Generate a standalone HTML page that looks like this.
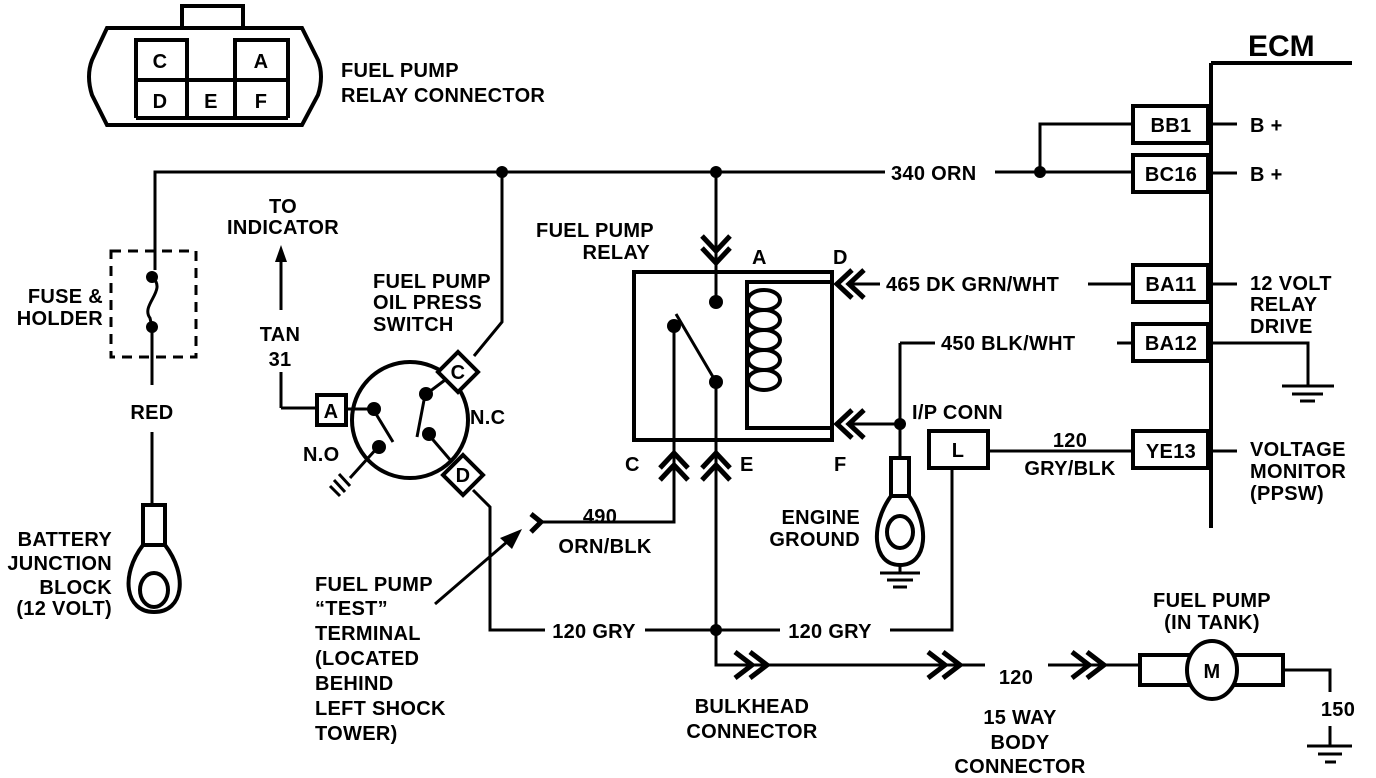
<!DOCTYPE html>
<html><head><meta charset="utf-8"><style>
html,body{margin:0;padding:0;background:#fff}
svg{display:block}
text{font-family:"Liberation Sans",sans-serif;font-weight:bold;font-size:20px;letter-spacing:0.3px;fill:#000}
</style></head><body>
<svg width="1376" height="778" viewBox="0 0 1376 778" xmlns="http://www.w3.org/2000/svg">
<g fill="none" stroke="#000" stroke-width="3">
<path d="M107,28 L302,28 L318,60 Q324,76 318,95 L302,125 L107,125 L92,95 Q86,76 92,60 Z" stroke-width="4"/>
<rect x="182" y="6" width="61" height="22" stroke-width="4"/>
<path d="M136,118 V40 H187 V118 M235,118 V40 H288 V118 M136,80 H288 M136,118 H288 M187,80 V118 M235,80 V118" stroke-width="4"/>
<path d="M155,270 V172 H885 M995,172 H1133"/>
<path d="M1040,172 V124 H1133"/>
<rect x="111" y="251" width="85" height="106" stroke-dasharray="10,7"/>
<path d="M152,277 C168,290 140,305 150,318 L152,327 V385"/>
<path d="M152,432 V505"/>
<rect x="143" y="505" width="22" height="40" stroke-width="4"/>
<path d="M143,545 C120,575 125,612 154,612 C184,612 188,575 165,545" stroke-width="4"/>
<ellipse cx="154" cy="590" rx="14" ry="17" stroke-width="4"/>
<path d="M1211,63 V528 M1211,63 H1352" stroke-width="4"/>
<rect x="1133" y="106" width="75" height="37" stroke-width="4"/>
<rect x="1133" y="155" width="75" height="37" stroke-width="4"/>
<rect x="1133" y="265" width="75" height="37" stroke-width="4"/>
<rect x="1133" y="324" width="75" height="37" stroke-width="4"/>
<rect x="1133" y="431" width="75" height="37" stroke-width="4"/>
<path d="M1212,124 H1237 M1212,173 H1237 M1212,284 H1237 M1212,451 H1237"/>
<path d="M1212,343 H1308 V385 M1282,386 H1334 M1292,394 H1323 M1300,401 H1315"/>
<rect x="634" y="272" width="198" height="168" stroke-width="4"/>
<path d="M832,282 H747 V428 H832" stroke-width="4"/>
<g stroke-width="4">
<ellipse cx="764" cy="300" rx="16" ry="10"/><ellipse cx="764" cy="320" rx="16" ry="10"/><ellipse cx="764" cy="340" rx="16" ry="10"/><ellipse cx="764" cy="360" rx="16" ry="10"/><ellipse cx="764" cy="380" rx="16" ry="10"/>
</g>
<path d="M716,172 V302 M674,326 V522 H540 M716,382 V665 H985 M1048,665 H1140 M676,314 L716,382"/>
<path d="M702,236 L716,251 L730,236 M702,248 L716,263 L730,248" stroke-width="5"/>
<path d="M660,468 L674,453 L688,468 M660,480 L674,465 L688,480" stroke-width="5"/>
<path d="M702,468 L716,453 L730,468 M702,480 L716,465 L730,480" stroke-width="5"/>
<path d="M852,270 L837,284 L852,298 M864,270 L849,284 L864,298" stroke-width="5"/>
<path d="M852,410 L837,424 L852,438 M864,410 L849,424 L864,438" stroke-width="5"/>
<path d="M848,284 H880 M852,424 H900"/>
<path d="M900,343 H935 M1117,343 H1133 M1088,284 H1133"/>
<path d="M900,343 V458"/>
<rect x="891" y="458" width="18" height="38" stroke-width="4"/>
<path d="M891,496 C870,525 872,565 900,565 C928,565 930,525 909,496" stroke-width="4"/>
<ellipse cx="900" cy="532" rx="13" ry="16" stroke-width="4"/>
<path d="M900,565 V572 M880,573 H920 M887,580 H913 M893,587 H907"/>
<rect x="929" y="431" width="59" height="37" stroke-width="4"/>
<path d="M988,451 H1133 M952,468 V630 H890 M780,630 H645 M545,630 H490 V507 L473,490"/>
<path d="M735,652 L752,665 L735,678 M750,652 L767,665 L750,678" stroke-width="5"/>
<path d="M928,652 L945,665 L928,678 M943,652 L960,665 L943,678" stroke-width="5"/>
<path d="M1072,652 L1089,665 L1072,678 M1087,652 L1104,665 L1087,678" stroke-width="5"/>
<rect x="1140" y="655" width="143" height="30" stroke-width="4" fill="#fff"/>
<ellipse cx="1212" cy="670" rx="25" ry="29" stroke-width="4" fill="#fff"/>
<path d="M1283,670 H1330 V692 M1330,726 V745 M1307,746 H1352 M1318,754 H1342 M1325,762 H1336"/>
<path d="M531,514 L541,522 L531,532" stroke-width="5"/>
<path d="M435,604 L515,535"/>
<circle cx="410" cy="420" r="58" stroke-width="4"/>
<rect x="317" y="395" width="29" height="30" stroke-width="4" fill="#fff"/>
<path d="M281,408 H317 M281,408 V372 M281,310 V255"/>
<path d="M458,352 L478,372 L458,392 L438,372 Z" stroke-width="4" fill="#fff"/>
<path d="M463,455 L483,475 L463,495 L443,475 Z" stroke-width="4" fill="#fff"/>
<path d="M474,356 L502,322 V172"/>
<path d="M346,409 H373 L393,442 M445,380 L425,395 L417,437 M428,434 L452,462 M378,447 L350,478 M339,474 L350,486 M334,480 L345,492 M330,486 L340,496"/>
</g>
<path d="M281,245 L275,262 L287,262 Z" fill="#000"/>
<path d="M522,529 L500,538 L512,549 Z" fill="#000"/>
<g fill="#000">
<circle cx="502" cy="172" r="6"/><circle cx="716" cy="172" r="6"/><circle cx="1040" cy="172" r="6"/>
<circle cx="152" cy="277" r="6"/><circle cx="152" cy="327" r="6"/>
<circle cx="716" cy="302" r="7"/><circle cx="674" cy="326" r="7"/><circle cx="716" cy="382" r="7"/>
<circle cx="900" cy="424" r="6"/><circle cx="716" cy="630" r="6"/>
<circle cx="374" cy="409" r="7"/><circle cx="426" cy="394" r="7"/><circle cx="429" cy="434" r="7"/><circle cx="379" cy="447" r="7"/>
</g>
<text x="1248" y="56" style="font-size:30px;letter-spacing:0">ECM</text>
<text x="160" y="68" text-anchor="middle">C</text><text x="261" y="68" text-anchor="middle">A</text>
<text x="160" y="108" text-anchor="middle">D</text><text x="211" y="108" text-anchor="middle">E</text><text x="261" y="108" text-anchor="middle">F</text>
<text x="341" y="77">FUEL PUMP</text><text x="341" y="102">RELAY CONNECTOR</text>
<text x="891" y="180">340  ORN</text>
<text x="1171" y="132" text-anchor="middle">BB1</text><text x="1171" y="181" text-anchor="middle">BC16</text>
<text x="1171" y="291" text-anchor="middle">BA11</text><text x="1171" y="350" text-anchor="middle">BA12</text>
<text x="1171" y="458" text-anchor="middle">YE13</text>
<text x="1250" y="132">B +</text><text x="1250" y="181">B +</text>
<text x="1250" y="290">12 VOLT</text><text x="1250" y="311">RELAY</text><text x="1250" y="333">DRIVE</text>
<text x="1250" y="456">VOLTAGE</text><text x="1250" y="478">MONITOR</text><text x="1250" y="500">(PPSW)</text>
<text x="886" y="291">465  DK GRN/WHT</text>
<text x="941" y="350">450  BLK/WHT</text>
<text x="958" y="457" text-anchor="middle">L</text>
<text x="912" y="419">I/P CONN</text>
<text x="1070" y="447" text-anchor="middle">120</text><text x="1070" y="475" text-anchor="middle">GRY/BLK</text>
<text x="283" y="213" text-anchor="middle">TO</text><text x="283" y="234" text-anchor="middle">INDICATOR</text>
<text x="280" y="341" text-anchor="middle">TAN</text><text x="280" y="366" text-anchor="middle">31</text>
<text x="103" y="303" text-anchor="end">FUSE &amp;</text><text x="103" y="325" text-anchor="end">HOLDER</text>
<text x="152" y="419" text-anchor="middle">RED</text>
<text x="112" y="546" text-anchor="end">BATTERY</text><text x="112" y="570" text-anchor="end">JUNCTION</text><text x="112" y="594" text-anchor="end">BLOCK</text><text x="112" y="615" text-anchor="end">(12 VOLT)</text>
<text x="373" y="288">FUEL PUMP</text><text x="373" y="309">OIL PRESS</text><text x="373" y="331">SWITCH</text>
<text x="331" y="418" text-anchor="middle">A</text><text x="458" y="379" text-anchor="middle">C</text><text x="463" y="482" text-anchor="middle">D</text>
<text x="470" y="424">N.C</text><text x="303" y="461">N.O</text>
<text x="595" y="237" text-anchor="middle">FUEL PUMP</text><text x="650" y="259" text-anchor="end">RELAY</text>
<text x="752" y="264">A</text><text x="833" y="264">D</text>
<text x="625" y="471">C</text><text x="740" y="471">E</text><text x="834" y="471">F</text>
<text x="600" y="523" text-anchor="middle">490</text><text x="605" y="553" text-anchor="middle">ORN/BLK</text>
<text x="594" y="638" text-anchor="middle">120 GRY</text><text x="830" y="638" text-anchor="middle">120 GRY</text>
<text x="860" y="524" text-anchor="end">ENGINE</text><text x="860" y="546" text-anchor="end">GROUND</text>
<text x="315" y="591">FUEL PUMP</text><text x="315" y="615">“TEST”</text><text x="315" y="640">TERMINAL</text><text x="315" y="665">(LOCATED</text><text x="315" y="690">BEHIND</text><text x="315" y="715">LEFT SHOCK</text><text x="315" y="740">TOWER)</text>
<text x="1016" y="684" text-anchor="middle">120</text>
<text x="752" y="713" text-anchor="middle">BULKHEAD</text><text x="752" y="738" text-anchor="middle">CONNECTOR</text>
<text x="1020" y="724" text-anchor="middle">15 WAY</text><text x="1020" y="749" text-anchor="middle">BODY</text><text x="1020" y="773" text-anchor="middle">CONNECTOR</text>
<text x="1212" y="607" text-anchor="middle">FUEL PUMP</text><text x="1212" y="629" text-anchor="middle">(IN TANK)</text>
<text x="1212" y="678" text-anchor="middle">M</text>
<text x="1338" y="716" text-anchor="middle">150</text>
</svg>
</body></html>
